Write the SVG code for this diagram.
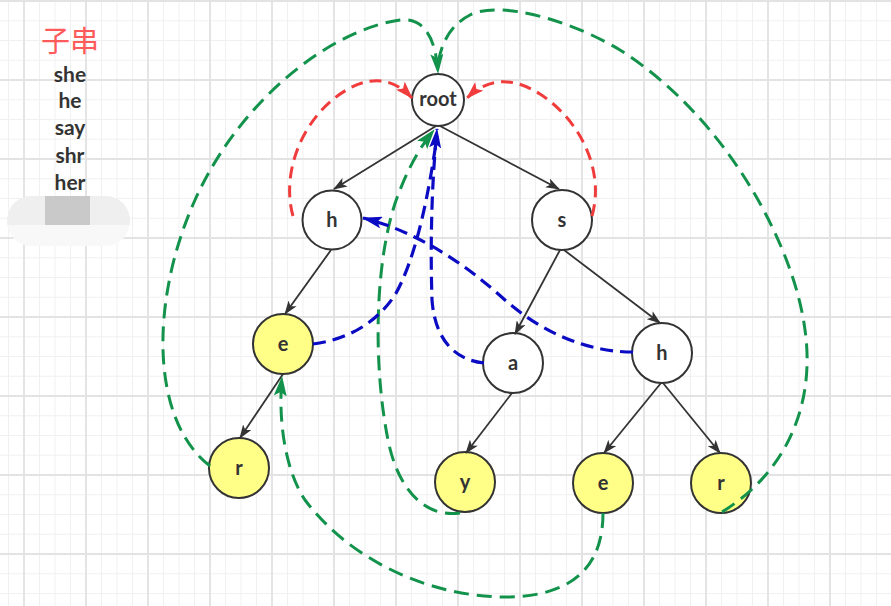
<svg xmlns="http://www.w3.org/2000/svg" width="891" height="606" viewBox="0 0 891 606">
<style>
.tree{fill:none;stroke:#333;stroke-width:1.8}
.red{fill:none;stroke:#f03c3c;stroke-width:3;stroke-dasharray:12 7}
.green{fill:none;stroke:#12924b;stroke-width:3;stroke-dasharray:15 8}
.blue{fill:none;stroke:#0b0bc4;stroke-width:3.2;stroke-dasharray:13 7}
.node{stroke:#333;stroke-width:2}
.w{fill:#ffffff}
.yl{fill:#ffff88}
.lbl{font-family:Lato,"Noto Sans",sans-serif;font-weight:bold;font-size:20px;fill:#333;text-anchor:middle}
.lst{font-family:Lato,"Noto Sans",sans-serif;font-weight:bold;font-size:21px;fill:#333;text-anchor:middle}
</style>
<defs>
<pattern id="minor" patternUnits="userSpaceOnUse" x="8" y="0.5" width="15.5" height="19.75">
<path d="M0.5,0 V19.75 M0,0.5 H15.5" stroke="#f0f0f0" stroke-width="1" fill="none"/>
</pattern>
<pattern id="major" patternUnits="userSpaceOnUse" x="23" y="0" width="62" height="79">
<path d="M1,0 V79 M0,1 H62" stroke="#e3e3e3" stroke-width="1.8" fill="none"/>
</pattern>
<marker id="ab" viewBox="0 0 14 10" refX="13" refY="5" markerWidth="14" markerHeight="10" markerUnits="userSpaceOnUse" orient="auto"><path d="M0,0 L14,5 L0,10 L3.5,5 z" fill="#333"/></marker>
<marker id="ar" viewBox="0 0 18 12" refX="17" refY="6" markerWidth="18" markerHeight="12" markerUnits="userSpaceOnUse" orient="auto"><path d="M0,0 L18,6 L0,12 L4,6 z" fill="#f03c3c"/></marker>
<marker id="ag" viewBox="0 0 20 13" refX="19" refY="6.5" markerWidth="20" markerHeight="13" markerUnits="userSpaceOnUse" orient="auto"><path d="M0,0 L20,6.5 L0,13 L4,6.5 z" fill="#12924b"/></marker>
<marker id="abl" viewBox="0 0 20 12" refX="19" refY="6" markerWidth="20" markerHeight="12" markerUnits="userSpaceOnUse" orient="auto"><path d="M0,0 L20,6 L0,12 L4,6 z" fill="#0b0bc4"/></marker>
<clipPath id="pill"><rect x="7" y="196" width="123" height="50" rx="24" ry="25"/></clipPath>
</defs>
<rect width="891" height="606" fill="#ffffff"/>
<rect width="891" height="606" fill="url(#minor)"/>
<rect width="891" height="606" fill="url(#major)"/>

<g id="legend">
<text x="70" y="52" font-family="'Noto Sans CJK SC',sans-serif" font-size="29" fill="#ff5b5b" text-anchor="middle">子串</text>
<text class="lst" x="70" y="82">she</text>
<text class="lst" x="70" y="108">he</text>
<text class="lst" x="70" y="135">say</text>
<text class="lst" x="70" y="163">shr</text>
<text class="lst" x="70" y="190">her</text>
<g clip-path="url(#pill)">
<rect x="7" y="196" width="123" height="50" fill="#f8f8f8"/>
<rect x="7" y="196" width="123" height="29" fill="#efefef"/>
<rect x="45" y="196" width="45" height="29" fill="#c9c9c9"/>
</g>
</g>

<g id="n-root"><circle class="node w" cx="438" cy="100" r="26"/><text class="lbl" x="438" y="106" font-size="17">root</text></g>
<g id="n-h1"><circle class="node w" cx="332" cy="220" r="29.5"/><text class="lbl" x="332" y="227">h</text></g>
<g id="n-s"><circle class="node w" cx="562" cy="220" r="30"/><text class="lbl" x="562" y="227">s</text></g>
<g id="n-e1"><circle class="node yl" cx="283" cy="344" r="30"/><text class="lbl" x="283" y="351">e</text></g>
<g id="n-a"><circle class="node w" cx="513" cy="363" r="30"/><text class="lbl" x="513" y="370">a</text></g>
<g id="n-h2"><circle class="node w" cx="662" cy="353" r="30"/><text class="lbl" x="662" y="360">h</text></g>
<g id="n-r1"><circle class="node yl" cx="239" cy="468" r="30"/><text class="lbl" x="239" y="475">r</text></g>
<g id="n-y"><circle class="node yl" cx="465" cy="482" r="30"/><text class="lbl" x="465" y="489">y</text></g>
<g id="n-e2"><circle class="node yl" cx="603" cy="483" r="30"/><text class="lbl" x="603" y="490">e</text></g>
<g id="n-r2"><circle class="node yl" cx="721" cy="483" r="30"/><text class="lbl" x="721" y="490">r</text></g>

<g id="connectors">
<path class="tree" d="M436,126 L334,189" marker-end="url(#ab)"/>
<path class="tree" d="M440,126 L559,189" marker-end="url(#ab)"/>
<path class="tree" d="M331,250 L285,314" marker-end="url(#ab)"/>
<path class="tree" d="M283,374 L240,438" marker-end="url(#ab)"/>
<path class="tree" d="M560,250 L515,334" marker-end="url(#ab)"/>
<path class="tree" d="M564,250 L660,323" marker-end="url(#ab)"/>
<path class="tree" d="M512,393 L466,453" marker-end="url(#ab)"/>
<path class="tree" d="M661,383 L604,453" marker-end="url(#ab)"/>
<path class="tree" d="M663,383 L720,453" marker-end="url(#ab)"/>

<path class="red" d="M293,216 C280,170 305,112 350,88 C375,75 395,80 412,98" marker-end="url(#ar)"/>
<path class="red" d="M592,216 C605,170 580,120 540,94 C515,78 490,76 467,98" marker-end="url(#ar)"/>

<path class="green" d="M210,466 C150,420 150,300 195,200 C240,100 330,30 400,20 C425,17 436,40 438,73" marker-end="url(#ag)"/>
<path class="green" d="M722,512 C790,470 815,400 805,330 C795,250 730,120 620,50 C570,20 500,0 470,15 C450,25 440,45 438,66"/>
<path class="green" d="M460,513 C425,518 398,490 388,440 C372,360 375,250 400,190 C412,160 422,145 434,130" marker-end="url(#ag)"/>
<path class="green" d="M603,513 C603,560 580,595 510,597 C430,598 350,560 305,500 C285,470 278,420 282,377" marker-end="url(#ag)"/>

<path class="blue" d="M313,344 C345,340 375,325 395,295 C415,260 428,200 437,136"/>
<path class="blue" d="M484,363 C455,360 435,340 432,300 C430,240 432,180 437,129" marker-end="url(#abl)"/>
<path class="blue" d="M633,352 C590,352 545,335 505,300 C470,268 420,232 363,218" marker-end="url(#abl)"/>
</g>
</svg>
